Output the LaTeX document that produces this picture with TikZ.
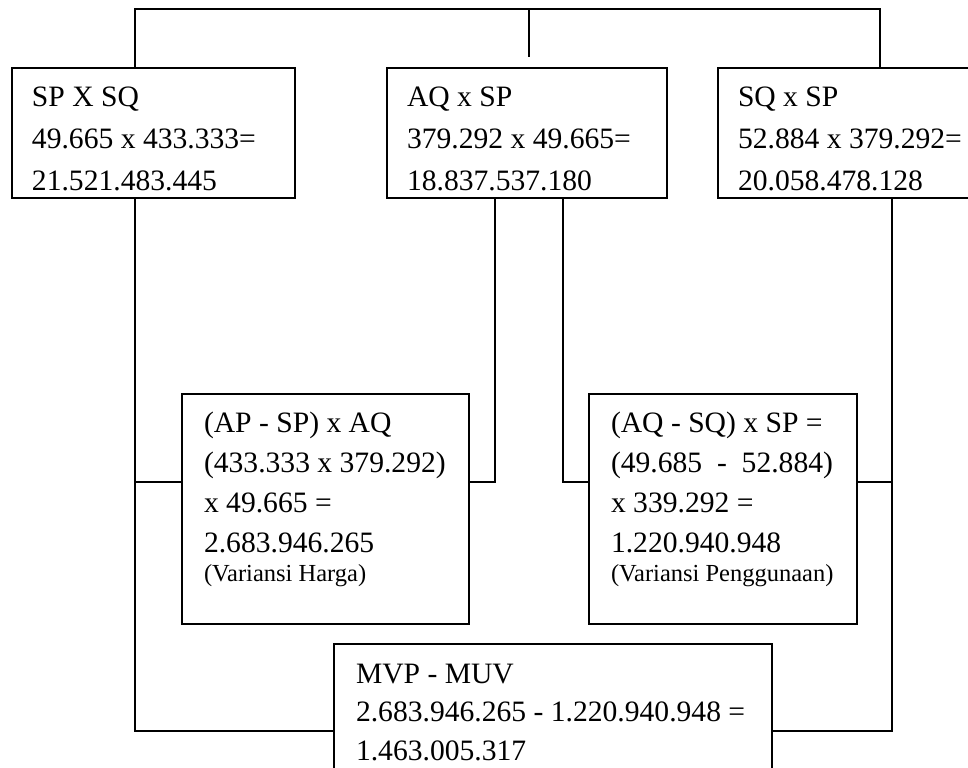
\documentclass[tikz,border=0pt]{standalone}
\usepackage{fontspec}
\setmainfont{Liberation Serif}
\tikzset{
  frame/.style={draw, line width=1pt, anchor=north west, inner sep=0pt},
  txt/.style={anchor=north west, inner sep=0pt, align=left},
  atas/.style={txt, font=\fontsize{14.8}{21}\selectfont},
  bawah/.style={txt, font=\fontsize{14.8}{20}\selectfont},
  hasil/.style={txt, font=\fontsize{14.8}{19.25}\selectfont},
}
\newcommand{\kecil}[1]{{\fontsize{12.25}{14}\selectfont #1}}
\begin{document}
\begin{tikzpicture}[x=0.5pt,y=-0.5pt,line width=1pt]
  \useasboundingbox (0,0) rectangle (968,767);
  \clip (0,0) rectangle (968,767);
  \node[frame, minimum width=141.5pt, minimum height=65pt] (b1) at (11,67) {};
  \node[frame, minimum width=140pt, minimum height=65pt] (b2) at (386,67) {};
  \node[frame, minimum width=136.5pt, minimum height=65pt] (b3) at (717,67) {};
  \node[frame, minimum width=143.5pt, minimum height=115pt] (b4) at (181,393) {};
  \node[frame, minimum width=134pt, minimum height=115pt] (b5) at (588,393) {};
  \node[frame, minimum width=219pt, minimum height=80pt] (b6) at (333,643) {};
  \node[atas] (t1) at (31,86) {SP X SQ\\49.665 x 433.333=\\21.521.483.445};
  \node[atas] (t2) at (406,86) {AQ x SP\\379.292 x 49.665=\\18.837.537.180};
  \node[atas] (t3) at (737,86) {SQ x SP\\52.884 x 379.292=\\20.058.478.128};
  \node[bawah] (t4) at (203,411) {(AP - SP) x AQ\\(433.333 x 379.292)\\x 49.665 =\\2.683.946.265\\[-5.5pt]\kecil{(Variansi Harga)}};
  \node[bawah] (t5) at (610,411) {(AQ - SQ) x SP =\\(49.685\ \ -\ \ 52.884)\\x 339.292 =\\1.220.940.948\\[-5.5pt]\kecil{(Variansi Penggunaan)}};
  \node[hasil] (t6) at (355,663) {MVP - MUV\\2.683.946.265 - 1.220.940.948 =\\1.463.005.317};
  \coordinate (topL) at (135,9);
  \coordinate (topM) at (529,9);
  \coordinate (topR) at (880,9);
  \coordinate (midEnd) at (529,57);
  \coordinate (jL) at (135,482);
  \coordinate (jA) at (495,482);
  \coordinate (jB) at (563,482);
  \coordinate (jR) at (892,482);
  \coordinate (spL) at (135,731);
  \coordinate (spR) at (892,731);
  \draw (b1.north -| topL) -- (topL) -- (topR) -- (b3.north -| topR);
  \draw (topM) -- (midEnd);
  \draw (b1.south -| spL) -- (spL) -- (spL -| b6.west);
  \draw (jL) -- (jL -| b4.west);
  \draw (b2.south -| jA) -- (jA) -- (jA -| b4.east);
  \draw (b2.south -| jB) -- (jB) -- (jB -| b5.west);
  \draw (b3.south -| spR) -- (spR) -- (spR -| b6.east);
  \draw (b5.east |- jR) -- (jR);
\end{tikzpicture}
\end{document}
